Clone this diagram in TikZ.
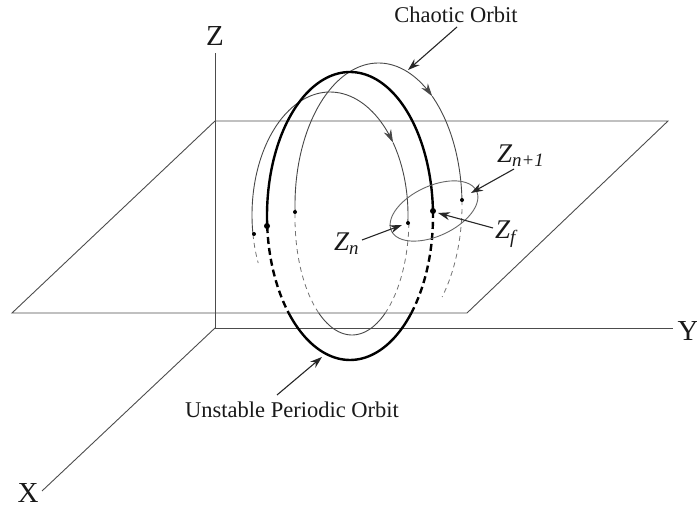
\documentclass[tikz,border=0pt]{standalone}
\usepackage{fontspec}
\setmainfont{Liberation Serif}
\usetikzlibrary{arrows.meta}
\begin{document}
\begin{tikzpicture}[x=1pt,y=-1pt,
  planeline/.style={draw=black!70, line width=0.9pt},
  upo/.style={line width=2.4pt, draw=black},
  upodash/.style={upo, dash pattern=on 7pt off 4pt},
  orbit/.style={line width=0.9pt, draw=black!72},
  orbitdash/.style={line width=0.8pt, draw=black!55, dash pattern=on 5pt off 4pt},
  bigdot/.style={circle, fill=black, inner sep=0pt, minimum size=6pt},
  smalldot/.style={circle, fill=black, inner sep=0pt, minimum size=4pt},
  txt/.style={font=\fontsize{22.5}{24}\selectfont, inner sep=0pt, text=black!90},
  axlbl/.style={font=\fontsize{29}{30}\selectfont, inner sep=0pt, text=black!90},
  zlbl/.style={font=\fontsize{27}{28}\selectfont\itshape, inner sep=0pt, text=black!90, anchor=base west},
  pointer/.style={-{Stealth[length=12pt,width=8pt]}, line width=1.1pt, draw=black!85},
  flowtip/.style={-{Stealth[length=13pt,width=8pt]}}
]
\useasboundingbox (0,0) rectangle (697,510);

% plane
\draw[planeline] (215,121) -- (668,121) -- (467,313) -- (12,313) -- cycle;

% axes
\coordinate (O) at (215,328);
\coordinate (zend) at (215,53);
\coordinate (yend) at (673,328);
\coordinate (xend) at (42,491);
\draw[planeline] (O) -- (zend);
\draw[planeline] (O) -- (yend);
\draw[planeline] (O) -- (xend);
\node[axlbl] (zl) at (215,36) {Z};
\node[axlbl] (yl) at (688,331) {Y};
\node[axlbl] (xl) at (28,493) {X};

% chaotic orbit, curve A: centre (330,215), rx 78, ry 123
\draw[orbitdash] plot[domain=188.9:203, samples=10, smooth] ({330+78*cos(\x)},{215-123*sin(\x)});
\draw[orbit, flowtip] plot[domain=188.9:36.1, samples=60, smooth] ({330+78*cos(\x)},{215-123*sin(\x)});
\draw[orbit] plot[domain=36.1:-3.7, samples=20, smooth] ({330+78*cos(\x)},{215-123*sin(\x)});

% bottom loop: centre (352,218), rx 57, ry 117
\draw[orbitdash] plot[domain=357.6:305.7, samples=20, smooth] ({352+57*cos(\x)},{218-117*sin(\x)});
\draw[orbit] plot[domain=305.7:234.3, samples=30, smooth] ({352+57*cos(\x)},{218-117*sin(\x)});
\draw[orbitdash] plot[domain=234.3:177.1, samples=20, smooth] ({352+57*cos(\x)},{218-117*sin(\x)});

% curve B: centre (378.5,205), rx 83.5, ry 142
\draw[orbit, flowtip] plot[domain=182.8:50, samples=60, smooth] ({378.5+83.5*cos(\x)},{205-142*sin(\x)});
\draw[orbit] plot[domain=50:2, samples=25, smooth] ({378.5+83.5*cos(\x)},{205-142*sin(\x)});
\draw[orbitdash] plot[domain=2:-40.4, samples=20, smooth] ({378.5+83.5*cos(\x)},{205-142*sin(\x)});

% unstable periodic orbit: centre (350,216), rx 83, ry 144
\draw[upo] plot[domain=2:184, samples=90, smooth] ({350+83*cos(\x)},{216-144*sin(\x)});
\draw[upodash] plot[domain=184:222.3, samples=20, smooth] ({350+83*cos(\x)},{216-144*sin(\x)});
\draw[upo] plot[domain=222.3:317.7, samples=45, smooth] ({350+83*cos(\x)},{216-144*sin(\x)});
\draw[upodash] plot[domain=2:-42.3, samples=20, smooth] ({350+83*cos(\x)},{216-144*sin(\x)});

% encircling ellipse
\draw[orbit, draw=black!60] plot[domain=0:355, samples=72, smooth cycle]
  ({434+42.6*cos(\x)-10.57*sin(\x)},{211-19.86*cos(\x)-22.66*sin(\x)});

% points
\node[smalldot] (pa) at (254,234) {};
\node[smalldot] (pb) at (295,212) {};
\node[bigdot] (pu1) at (267,226) {};
\node[bigdot] (zf) at (433,211) {};
\node[smalldot] (zn) at (408,223) {};
\node[smalldot] (zn1) at (462,200) {};

% labels
\node[txt] (chaos) at (456,15) {Chaotic Orbit};
\node[txt] (upol) at (292,410) {Unstable Periodic Orbit};
\node[zlbl] (znl) at (334,251) {Z\textsubscript{n}};
\node[zlbl] (zfl) at (495,239) {Z\textsubscript{f}};
\node[zlbl] (zn1l) at (497,163) {Z\textsubscript{n+1}};

% pointers
\coordinate (c1) at (457,27);  \coordinate (c2) at (408,70);
\coordinate (u1) at (277,395); \coordinate (u2) at (322,357);
\coordinate (n1) at (362,240); \coordinate (n2) at (402,225);
\coordinate (f1) at (493,228); \coordinate (f2) at (438,213);
\coordinate (m1) at (514,169); \coordinate (m2) at (471,193);
\draw[pointer] (c1) -- (c2);
\draw[pointer] (u1) -- (u2);
\draw[pointer] (n1) -- (n2);
\draw[pointer] (f1) -- (f2);
\draw[pointer] (m1) -- (m2);
\end{tikzpicture}
\end{document}
